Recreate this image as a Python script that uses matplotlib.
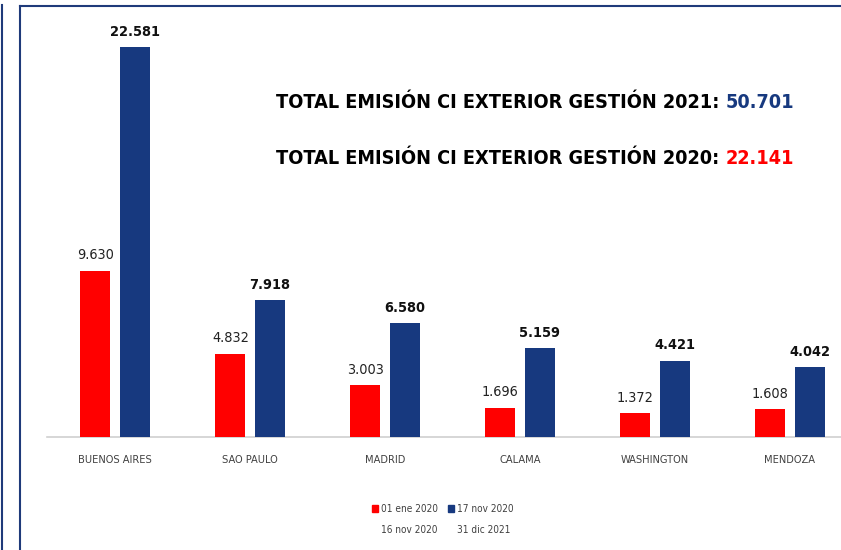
import matplotlib
matplotlib.use("Agg")
import matplotlib.pyplot as plt
from matplotlib.lines import Line2D
from matplotlib.patches import Patch
from matplotlib import font_manager as fm
import numpy as np

categories = ["BUENOS AIRES", "SAO PAULO", "MADRID", "CALAMA", "WASHINGTON", "MENDOZA"]
values_2020 = [9630, 4832, 3003, 1696, 1372, 1608]
values_2021 = [22581, 7918, 6580, 5159, 4421, 4042]
labels_2020 = ["9.630", "4.832", "3.003", "1.696", "1.372", "1.608"]
labels_2021 = ["22.581", "7.918", "6.580", "5.159", "4.421", "4.042"]
legend_labels = ["01 ene 2020\n16 nov 2020", "17 nov 2020\n31 dic 2021"]
total_2021 = "50.701"
total_2020 = "22.141"

RED = "#FF0000"
BLUE = "#17397F"

# pick a narrow font if available
names = {(f.name, f.stretch) for f in fm.fontManager.ttflist}
FAM, STRETCH = "Liberation Sans", "normal"
if any(n == "Liberation Sans Narrow" for n, s in names):
    FAM, STRETCH = "Liberation Sans Narrow", "normal"
elif any(n == "DejaVu Sans" and s != "normal" for n, s in names):
    FAM, STRETCH = "DejaVu Sans", "condensed"
FONT = dict(family=[FAM, "DejaVu Sans"], stretch=STRETCH)

W, H = 841, 550
fig = plt.figure(figsize=(W / 100, H / 100), dpi=100)
fig.patch.set_facecolor("white")
renderer = fig.canvas.get_renderer()


def fit_size(text, target_px, weight="normal"):
    t = fig.text(0, 0, text, fontsize=10, weight=weight, **FONT)
    w = t.get_window_extent(renderer).width
    t.remove()
    return 10 * target_px / w


# frame lines
fig.add_artist(Line2D([1.5 / W, 1.5 / W], [1 - 5 / H, 0], transform=fig.transFigure, color="#1F3A7A", lw=1.5))
fig.add_artist(Line2D([20 / W, 20 / W], [0, 1 - 6 / H], transform=fig.transFigure, color="#1F3A7A", lw=1.5))
fig.add_artist(Line2D([20 / W, 1], [1 - 6 / H, 1 - 6 / H], transform=fig.transFigure, color="#1F3A7A", lw=1.5))

ax_left, ax_right = 47, 841
ax_bottom, ax_top = 437, 20
ax = fig.add_axes([ax_left / W, (H - ax_bottom) / H, (ax_right - ax_left) / W, (ax_bottom - ax_top) / H])

x = np.arange(len(categories))
bw = 0.222
off = 0.145
ax.bar(x - off, values_2020, bw, color=RED, zorder=3)
ax.bar(x + off, values_2021, bw, color=BLUE, zorder=3)

val_size = min(fit_size("9.630", 37), 13)
for xi, v, lab in zip(x, values_2020, labels_2020):
    ax.annotate(lab, (xi - off, v), xytext=(0, 6), textcoords="offset points",
                ha="center", va="bottom", fontsize=val_size, color="#222222", **FONT)
for xi, v, lab in zip(x, values_2021, labels_2021):
    ax.annotate(lab, (xi + off, v), xytext=(0, 6), textcoords="offset points",
                ha="center", va="bottom", fontsize=val_size, weight="bold", color="#111111", **FONT)

ax.set_xlim((ax_left - 115) / 135, (ax_right - 115) / 135)
ax.set_ylim(0, 22581 * (ax_bottom - ax_top) / 390)
ax.set_xticks(x)
cat_size = min(fit_size("BUENOS AIRES", 74), 10)
ax.set_xticklabels(categories, fontsize=cat_size, color="#404040", **FONT)
ax.tick_params(axis="x", length=0, pad=13)
ax.set_yticks([])
for s in ["left", "right", "top"]:
    ax.spines[s].set_visible(False)
ax.spines["bottom"].set_color("#D0D0D0")
ax.spines["bottom"].set_linewidth(1.2)

# totals text (right aligned)
prefix21 = "TOTAL EMISIÓN CI EXTERIOR GESTIÓN 2021: "
prefix20 = "TOTAL EMISIÓN CI EXTERIOR GESTIÓN 2020: "
tot_size = min(fit_size(prefix21 + total_2021, 518, "bold"), 22)


def total_line(y_px, prefix, value, color):
    t2 = fig.text(794 / W, 1 - y_px / H, value, ha="right", va="center", fontsize=tot_size,
                  weight="bold", color=color, **FONT)
    bb = t2.get_window_extent(renderer)
    fig.text(bb.x0 / W, 1 - y_px / H, prefix.rstrip() + " ", ha="right", va="center", fontsize=tot_size,
             weight="bold", color="black", **FONT)


total_line(103, prefix21, total_2021, BLUE)
total_line(158, prefix20, total_2020, RED)

# legend: first line of each label next to the swatch, second line below it
first_lines = [lab.split("\n")[0] for lab in legend_labels]
second_lines = [lab.split("\n")[1] for lab in legend_labels]
leg_size = min(fit_size("01 ene 2020", 57), 10)
handles = [Patch(color=RED), Patch(color=BLUE)]
leg = fig.legend(handles, first_lines, loc="center", bbox_to_anchor=(443 / W, 1 - 509 / H), ncol=2,
                 frameon=False, prop=dict(size=leg_size, **FONT), handlelength=0.6, handleheight=0.6,
                 handletextpad=0.3, columnspacing=1.0, labelcolor="#404040",
                 borderpad=0, borderaxespad=0)
fig.canvas.draw()
for t, s in zip(leg.get_texts(), second_lines):
    bb = t.get_window_extent(renderer)
    fig.text(bb.x0 / W, 1 - 530 / H, s, ha="left", va="center", fontsize=leg_size,
             color="#404040", **FONT)

fig.savefig("out.png", dpi=100, facecolor="white")
